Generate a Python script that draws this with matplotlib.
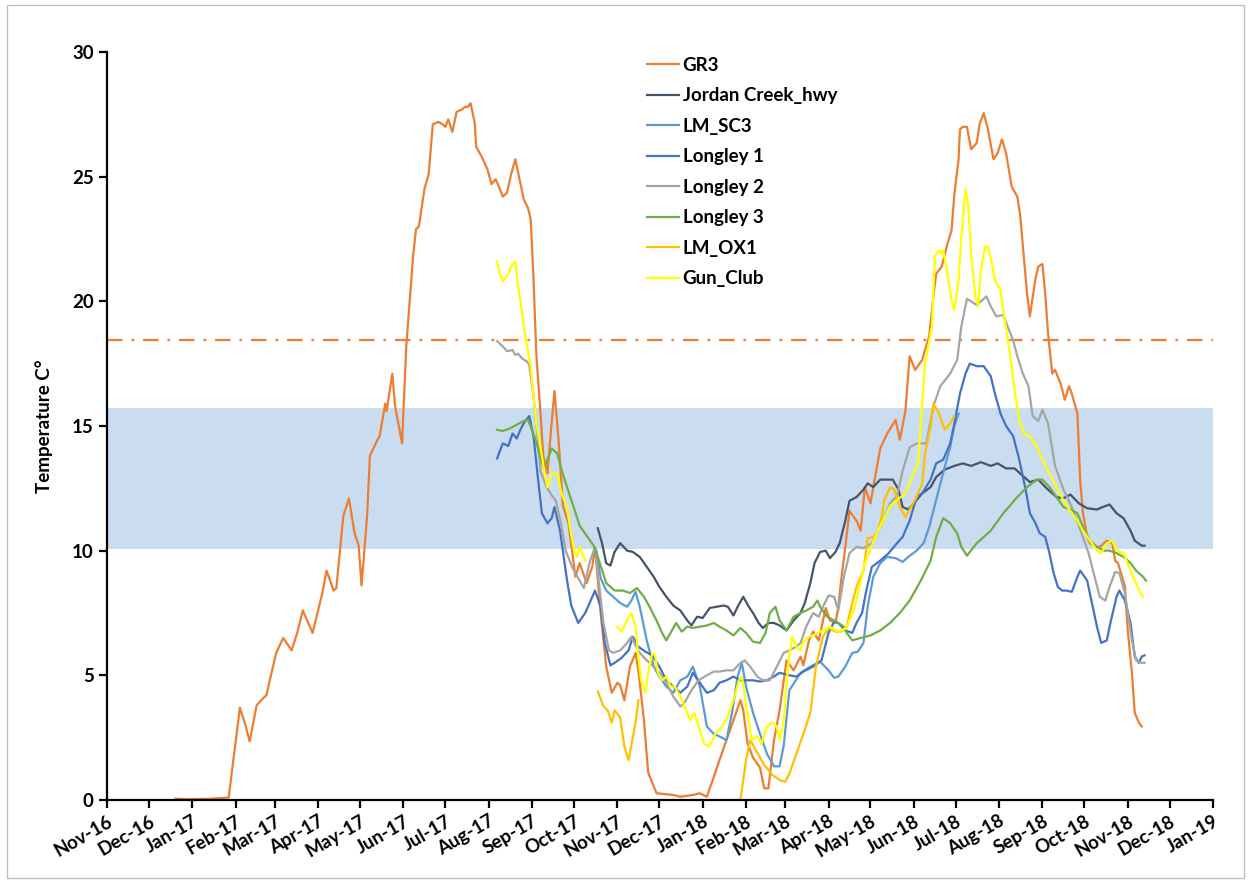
import numpy as np
import pandas as pd
import matplotlib
matplotlib.use('Agg')
import matplotlib.pyplot as plt
import matplotlib.dates as mdates
from matplotlib.patches import Rectangle

plt.rcParams['font.family'] = ['Lato', 'DejaVu Sans']
plt.rcParams['font.weight'] = 'bold'

nan = float('nan')

# day numbers are counted from 1 Nov 2016
START = pd.Timestamp('2016-11-01')

gr3_day = [49, 59, 74, 87, 95, 99, 102, 107, 112, 114, 117, 121, 126, 132, 136, 140, 147, 154, 157, 162,
           164, 169, 173, 177, 180, 182, 186, 188, 193, 195, 199, 200, 204, 206, 211, 214, 219, 221, 223, 227,
           230, 233, 237, 240, 242, 244, 247, 250, 254, 256, 258, 260, 263, 264, 268, 272, 275, 278, 281, 283,
           286, 289, 292, 295, 298, 301, 303, 305, 307, 310, 312, 315, 317, 320, 323, 326, 330, 335, 338, 343,
           347, 349, 353, 357, 361, 365, 367, 370, 374, 378, 380, 384, 387, 393, 405, 410, 419, 424, 429, 434,
           438, 443, 448, 453, 455, 458, 462, 467, 470, 473, 477, 481, 486, 491, 496, 498, 502, 505, 509, 514,
           517, 521, 523, 525, 528, 531, 536, 539, 542, 546, 548, 553, 558, 564, 567, 571, 574, 578, 583, 585,
           588, 591, 593, 597, 601, 604, 606, 609, 610, 612, 615, 618, 622, 624, 627, 630, 634, 637, 640, 643,
           647, 651, 653, 655, 658, 660, 664, 666, 669, 671, 673, 676, 678, 682, 685, 688, 690, 694, 696, 698,
           701, 703, 707, 710, 713, 715, 719, 721, 723, 726, 728, 730, 733, 735, 738, 740]
gr3_temp = [0.05, 0.03, 0.05, 0.1, 3.7, 3.0, 2.35, 3.8, 4.1, 4.2, 4.95, 5.9, 6.5, 6.0, 6.7, 7.6, 6.7, 8.3, 9.2, 8.4,
            8.5, 11.4, 12.1, 10.7, 10.2, 8.6, 11.4, 13.8, 14.4, 14.6, 15.9, 15.6, 17.1, 15.8, 14.3, 18.2, 21.9, 22.9, 23.0, 24.5,
            25.1, 27.1, 27.2, 27.1, 27.0, 27.3, 26.8, 27.6, 27.7, 27.8, 27.8, 27.95, 27.15, 26.2, 25.8, 25.3, 24.7, 24.9, 24.5, 24.2,
            24.35, 25.1, 25.7, 24.9, 24.1, 23.75, 23.3, 20.9, 17.9, 15.5, 13.8, 13.1, 14.5, 16.4, 14.4, 11.8, 11.1, 8.95, 9.5, 8.7,
            9.35, 10.15, 7.5, 5.35, 4.3, 4.7, 4.6, 4.0, 5.35, 5.9, 5.2, 3.2, 1.1, 0.27, 0.2, 0.13, 0.2, 0.27, 0.13, 0.93,
            1.6, 2.4, 3.2, 4.0, 3.6, 2.3, 1.7, 1.3, 0.47, 0.47, 2.4, 3.6, 5.6, 5.2, 5.75, 5.4, 6.4, 6.75, 6.4, 7.7,
            7.2, 7.1, 7.75, 8.8, 10.15, 11.6, 11.2, 10.8, 12.55, 11.9, 12.55, 14.1, 14.7, 15.25, 14.45, 15.6, 17.8, 17.25, 17.65, 18.05,
            18.6, 20.2, 21.1, 21.4, 22.3, 22.85, 24.3, 25.7, 26.9, 27.0, 27.0, 26.1, 26.35, 27.1, 27.55, 26.9, 25.7, 25.95, 26.5, 25.95,
            24.6, 24.2, 23.5, 22.2, 20.3, 19.4, 20.9, 21.4, 21.5, 20.3, 18.7, 17.1, 17.25, 16.7, 16.05, 16.6, 16.3, 15.5, 12.8, 11.5,
            10.55, 10.3, 10.15, 10.15, 10.3, 10.4, 10.3, 9.6, 9.5, 8.95, 8.55, 6.8, 5.1, 3.5, 3.1, 2.95]

jordan_day = [351, 354, 357, 360, 363, 367, 372, 376, 381, 386, 391, 395, 400, 405, 410, 415, 418, 422, 426, 431,
              436, 441, 444, 448, 451, 455, 459, 462, 466, 469, 473, 477, 481, 486, 491, 496, 499, 503, 506, 510,
              514, 517, 521, 524, 528, 531, 536, 541, 544, 548, 553, 559, 562, 566, 569, 573, 577, 583, 589, 593,
              599, 606, 612, 618, 625, 632, 637, 643, 649, 654, 660, 666, 672, 679, 684, 689, 695, 701, 708, 712,
              717, 722, 727, 732, 735, 740, 742]
jordan_temp = [10.9, 10.3, 9.5, 9.4, 9.95, 10.3, 10.0, 9.95, 9.75, 9.35, 8.95, 8.55, 8.15, 7.8, 7.6, 7.2, 7.0, 7.35, 7.3, 7.7,
               7.75, 7.8, 7.75, 7.4, 7.75, 8.15, 7.75, 7.5, 7.1, 6.9, 7.1, 7.1, 7.0, 6.8, 7.2, 7.5, 7.9, 8.7, 9.5, 9.95,
               10.0, 9.7, 9.95, 10.3, 11.2, 12.0, 12.15, 12.45, 12.7, 12.55, 12.85, 12.85, 12.85, 12.45, 11.75, 11.65, 11.9, 12.3, 12.55, 12.95,
               13.25, 13.4, 13.5, 13.4, 13.55, 13.4, 13.5, 13.3, 13.3, 13.05, 12.75, 12.85, 12.5, 12.15, 12.1, 12.25, 11.9, 11.7, 11.65, 11.75,
               11.85, 11.5, 11.3, 10.8, 10.4, 10.2, 10.2]

sc3_day = [350, 353, 357, 362, 367, 372, 375, 378, 381, 386, 391, 395, 400, 405, 410, 415, 419, 424, 429, 434,
           438, 443, 447, 451, 454, 457, 462, 467, 472, 477, 481, 484, 488, 496, 503, 510, 516, 520, 523, 528,
           533, 537, 541, 544, 548, 553, 558, 564, 569, 573, 579, 584, 588, 591, 596, 601, 603, 606, 609]
sc3_temp = [10.0, 8.9, 8.4, 8.15, 7.9, 7.75, 8.0, 8.35, 7.75, 6.4, 5.35, 4.95, 4.55, 4.3, 4.8, 4.95, 5.35, 4.55, 2.95, 2.65,
            2.55, 2.4, 3.5, 4.95, 5.5, 4.55, 3.5, 2.65, 1.85, 1.35, 1.35, 2.2, 4.4, 5.1, 5.35, 5.55, 5.2, 4.9, 4.95, 5.35,
            5.9, 5.95, 6.3, 7.75, 8.95, 9.5, 9.75, 9.7, 9.55, 9.75, 10.0, 10.3, 10.95, 11.6, 12.7, 13.75, 14.15, 15.0, 15.5]

longley1_day = [279, 283, 287, 290, 293, 296, 299, 302, 305, 308, 311, 315, 318, 320, 324, 329, 332, 337, 342, 349,
                353, 356, 360, 363, 368, 373, 376, 380, 385, 390, 395, 400, 405, 410, 415, 419, 424, 429, 434, 438,
                443, 448, 453, 457, 462, 467, 472, 477, 481, 488, 493, 498, 505, 511, 516, 520, 523, 528, 533, 536,
                540, 543, 547, 553, 559, 565, 569, 574, 579, 583, 589, 593, 598, 603, 606, 610, 614, 617, 622, 627,
                632, 635, 639, 643, 648, 652, 657, 660, 664, 667, 671, 674, 677, 680, 683, 686, 690, 694, 696, 701,
                704, 708, 711, 715, 718, 722, 724, 728, 732, 735, 738, 740, 742]
longley1_temp = [13.7, 14.3, 14.2, 14.7, 14.5, 14.9, 15.2, 15.4, 14.6, 13.0, 11.5, 11.1, 11.3, 11.75, 10.8, 8.8, 7.8, 7.1, 7.5, 8.4,
                 7.75, 6.3, 5.4, 5.5, 5.7, 6.0, 6.55, 6.15, 5.95, 5.8, 5.35, 4.8, 4.55, 4.3, 4.55, 5.1, 4.7, 4.3, 4.4, 4.7,
                 4.8, 4.95, 4.8, 4.8, 4.8, 4.75, 4.8, 4.95, 5.1, 5.0, 4.95, 5.15, 5.35, 5.6, 6.7, 7.15, 7.1, 6.8, 6.7, 7.1,
                 7.5, 8.4, 9.35, 9.6, 9.9, 10.3, 10.55, 11.2, 12.15, 12.3, 12.85, 13.5, 13.65, 14.3, 15.1, 16.3, 17.1, 17.5, 17.4, 17.4,
                 17.0, 16.3, 15.5, 15.0, 14.6, 13.75, 12.45, 11.5, 11.1, 10.7, 10.55, 9.9, 9.1, 8.55, 8.4, 8.4, 8.35, 8.95, 9.2, 8.8,
                 8.0, 6.95, 6.3, 6.4, 7.2, 8.15, 8.4, 8.0, 7.1, 5.75, 5.5, 5.75, 5.8]

longley2_day = [279, 283, 286, 290, 292, 294, 297, 300, 302, 305, 308, 310, 314, 317, 321, 325, 328, 333, 337, 341,
                345, 349, 355, 359, 362, 367, 372, 375, 378, 381, 386, 391, 395, 400, 405, 410, 413, 418, 423, 429,
                434, 438, 443, 448, 453, 456, 460, 465, 469, 474, 479, 484, 488, 493, 496, 500, 505, 509, 512, 516,
                520, 523, 527, 531, 536, 541, 547, 553, 560, 565, 569, 574, 579, 586, 591, 596, 603, 608, 611, 615,
                618, 622, 625, 629, 632, 636, 641, 644, 648, 651, 655, 659, 662, 666, 669, 673, 678, 684, 690, 697,
                702, 707, 710, 714, 717, 721, 724, 728, 730, 733, 736, 740, 742]
longley2_temp = [18.4, 18.2, 18.0, 18.05, 17.85, 17.9, 17.7, 17.6, 17.45, 16.2, 14.5, 13.2, 12.6, 12.3, 12.0, 11.0, 10.0, 9.3, 8.9, 8.5,
                 9.5, 10.15, 7.1, 6.0, 5.9, 6.0, 6.3, 6.55, 6.2, 5.9, 5.6, 5.35, 5.1, 4.7, 4.15, 3.75, 3.9, 4.4, 4.8, 5.0,
                 5.15, 5.15, 5.2, 5.2, 5.5, 5.6, 5.35, 4.95, 4.8, 4.8, 5.35, 5.9, 6.0, 6.15, 6.3, 6.95, 7.5, 7.35, 7.75, 8.2,
                 8.15, 7.6, 8.95, 9.9, 10.15, 10.1, 10.3, 10.95, 11.9, 12.2, 13.2, 14.15, 14.3, 14.3, 15.8, 16.6, 17.1, 17.65, 19.0, 20.1,
                 20.0, 19.85, 20.0, 20.2, 19.8, 19.4, 19.45, 19.0, 18.45, 17.8, 17.1, 16.6, 15.4, 15.2, 15.65, 15.1, 13.4, 12.45, 11.75, 10.7,
                 9.9, 8.8, 8.15, 8.0, 8.55, 9.15, 9.1, 8.3, 7.5, 6.4, 5.6, 5.5, 5.5]

longley3_day = [279, 283, 288, 293, 298, 301, 305, 308, 312, 314, 318, 322, 325, 329, 334, 338, 343, 348, 351, 357,
                363, 369, 374, 379, 384, 388, 393, 397, 400, 404, 407, 411, 415, 419, 424, 429, 434, 438, 443, 448,
                453, 457, 462, 467, 471, 474, 478, 481, 486, 491, 496, 500, 505, 508, 510, 515, 520, 523, 527, 529,
                533, 539, 546, 553, 560, 567, 574, 582, 589, 593, 598, 603, 608, 611, 615, 622, 632, 641, 651, 658,
                665, 669, 674, 679, 684, 689, 694, 698, 703, 708, 713, 717, 722, 727, 732, 736, 741, 743]
longley3_temp = [14.85, 14.8, 14.9, 15.05, 15.2, 15.25, 14.7, 14.15, 13.35, 13.5, 14.1, 13.9, 13.25, 12.55, 11.7, 11.0, 10.6, 10.2, 9.75, 8.7,
                 8.4, 8.4, 8.3, 8.5, 8.15, 7.75, 7.2, 6.7, 6.4, 6.8, 7.1, 6.75, 6.95, 6.9, 6.95, 7.0, 7.1, 6.95, 6.8, 6.6,
                 6.9, 6.7, 6.35, 6.3, 6.7, 7.5, 7.75, 7.2, 6.8, 7.35, 7.5, 7.6, 7.75, 8.0, 7.75, 7.35, 7.2, 7.1, 6.95, 6.7,
                 6.4, 6.5, 6.6, 6.8, 7.1, 7.5, 8.0, 8.8, 9.6, 10.55, 11.3, 11.1, 10.7, 10.15, 9.8, 10.3, 10.8, 11.5, 12.15, 12.55,
                 12.85, 12.85, 12.55, 12.15, 11.75, 11.65, 11.5, 10.95, 10.4, 10.15, 10.0, 10.0, 9.9, 9.75, 9.5, 9.2, 8.95, 8.8]

ox1_day = [351, 355, 358, 361, 363, 367, 370, 373, 375, 378, 380, 381,
           453, 457, 460, 465, 470, 476, 481, 485, 488, 493, 498, 503, 507, 512, 516, 521, 525, 529,
           533, 536, 541, 544, 548, 551, 554, 556, 560, 563, 567, 571, 574, 579, 583, 585, 589, 591, 595, 599,
           603, 606]
ox1_temp = [4.35, 3.75, 3.6, 3.1, 3.6, 3.3, 2.15, 1.6, 2.2, 3.1, 4.0, nan,
            0.0, 1.6, 2.4, 1.9, 1.4, 1.0, 0.8, 0.73, 1.05, 1.85, 2.65, 3.5, 5.35, 6.55, 6.9, 6.75, 6.75, 6.95,
            7.9, 8.55, 9.2, 10.5, 10.55, 10.7, 11.35, 12.05, 12.55, 12.45, 11.75, 11.35, 11.65, 12.15, 12.7, 13.9, 14.95, 15.9, 15.5, 14.85,
            15.1, 15.4]

gun_day = [279, 281, 283, 287, 289, 292, 294, 297, 299, 303, 305, 307, 310, 313, 315, 318, 322, 325, 329, 331,
           334, 336, 338, 342, 343,
           365, 368, 372, 375, 378, 380, 382, 385, 387, 390, 392, 394, 397, 400, 403, 406, 410, 413, 417, 420,
           424, 427, 431, 435, 440, 444, 448, 452, 454, 456, 459, 461, 465, 468, 472, 476, 479, 481, 484, 487,
           490, 493, 496, 498, 502, 505, 517, 523, 529, 535, 542, 549, 560, 571, 580, 585, 590, 592, 595, 597,
           598, 601, 604, 606, 609, 611, 614, 616, 618, 621, 623, 625, 628, 630, 633, 635, 639, 642, 646, 649,
           653, 656, 661, 665, 669, 674, 680, 685, 690, 694, 698, 703, 708, 711, 715, 719, 722, 727, 732, 735,
           739, 741]
gun_temp = [21.6, 21.1, 20.8, 21.1, 21.4, 21.6, 20.6, 19.5, 18.6, 17.4, 16.2, 15.1, 14.15, 13.1, 12.55, 13.1, 13.1, 12.3, 11.75, 10.95,
            10.0, 9.75, 10.15, 9.6, nan,
            6.95, 6.75, 7.2, 7.5, 6.95, 5.75, 4.8, 4.3, 5.1, 5.9, 5.8, 5.1, 4.8, 4.95, 4.55, 4.55, 4.15, 3.75, 3.2, 3.5,
            2.8, 2.25, 2.15, 2.65, 2.95, 3.35, 4.0, 4.8, 4.95, 4.15, 3.2, 2.4, 2.55, 2.25, 2.95, 3.1, 2.95, 2.4, 3.2, 5.35,
            6.55, 6.15, 6.0, 6.35, 6.55, 6.6, 6.95, 6.75, 6.9, 7.8, 9.5, 10.5, 11.8, 12.3, 13.5, 17.5, 19.0, 21.8, 22.05, 21.9,
            22.05, 21.1, 20.05, 19.65, 20.85, 22.6, 24.5, 23.8, 21.9, 20.2, 19.8, 21.25, 22.2, 22.2, 21.5, 20.85, 20.45, 19.25, 17.8, 16.45,
            15.1, 14.7, 14.55, 14.15, 13.65, 13.1, 12.45, 11.9, 11.5, 11.2, 10.8, 10.4, 10.0, 9.9, 10.3, 10.4, 10.0, 9.9, 9.2, 8.8,
            8.3, 8.15]

threshold = 18.45
band_low, band_high = 10.07, 15.72

series = [
    ('GR3', gr3_day, gr3_temp, '#ED7D31'),
    ('Jordan Creek_hwy', jordan_day, jordan_temp, '#44546A'),
    ('LM_SC3', sc3_day, sc3_temp, '#5B9BD5'),
    ('Longley 1', longley1_day, longley1_temp, '#4472C4'),
    ('Longley 2', longley2_day, longley2_temp, '#A5A5A5'),
    ('Longley 3', longley3_day, longley3_temp, '#70AD47'),
    ('LM_OX1', ox1_day, ox1_temp, '#FFC000'),
    ('Gun_Club', gun_day, gun_temp, '#FFFF00'),
]

fig = plt.figure(figsize=(12.49, 8.82), dpi=100)
ax = fig.add_axes([0.0857, 0.093, 0.8855, 0.848])

x0 = pd.Timestamp('2016-11-01')
x1 = pd.Timestamp('2019-01-01')
ax.axhspan(band_low, band_high, color='#C9DCF0', zorder=0, lw=0)
ax.axhline(threshold, color='#ED7D31', lw=1.6, ls=(0, (7, 4, 1.2, 4)), zorder=1)

for name, day, temp, col in series:
    dates = START + pd.to_timedelta(day, unit='D')
    ax.plot(dates, temp, color=col, lw=1.6, label=name, zorder=2)

ax.set_xlim(x0, x1)
ax.set_ylim(0, 30)
ax.set_yticks(range(0, 31, 5))
ax.xaxis.set_major_locator(mdates.MonthLocator())
ax.xaxis.set_major_formatter(mdates.DateFormatter('%b-%y'))

for s in ['top', 'right']:
    ax.spines[s].set_visible(False)
for s in ['left', 'bottom']:
    ax.spines[s].set_linewidth(1.6)
ax.tick_params(axis='both', direction='out', length=6, width=1.6, labelsize=13.5)
ax.tick_params(axis='x', pad=3)
for lab in ax.get_xticklabels():
    lab.set_rotation(30)
    lab.set_ha('right')
    lab.set_va('top')
    lab.set_rotation_mode('anchor')
    lab.set_fontweight('bold')
for lab in ax.get_yticklabels():
    lab.set_fontweight('bold')

ax.set_ylabel('Temperature C°', fontsize=13.5, fontweight='bold', labelpad=14)

leg = ax.legend(loc='upper left', bbox_to_anchor=(0.473, 1.016), frameon=False, fontsize=13.5,
                handlelength=1.7, handletextpad=0.2, labelspacing=0.72)
for t in leg.get_texts():
    t.set_fontweight('bold')

fig.patches.append(Rectangle((0.006, 0.004), 0.99, 0.99, transform=fig.transFigure,
                             fill=False, edgecolor='#BFBFBF', lw=1))

fig.savefig('out.png', dpi=100)
